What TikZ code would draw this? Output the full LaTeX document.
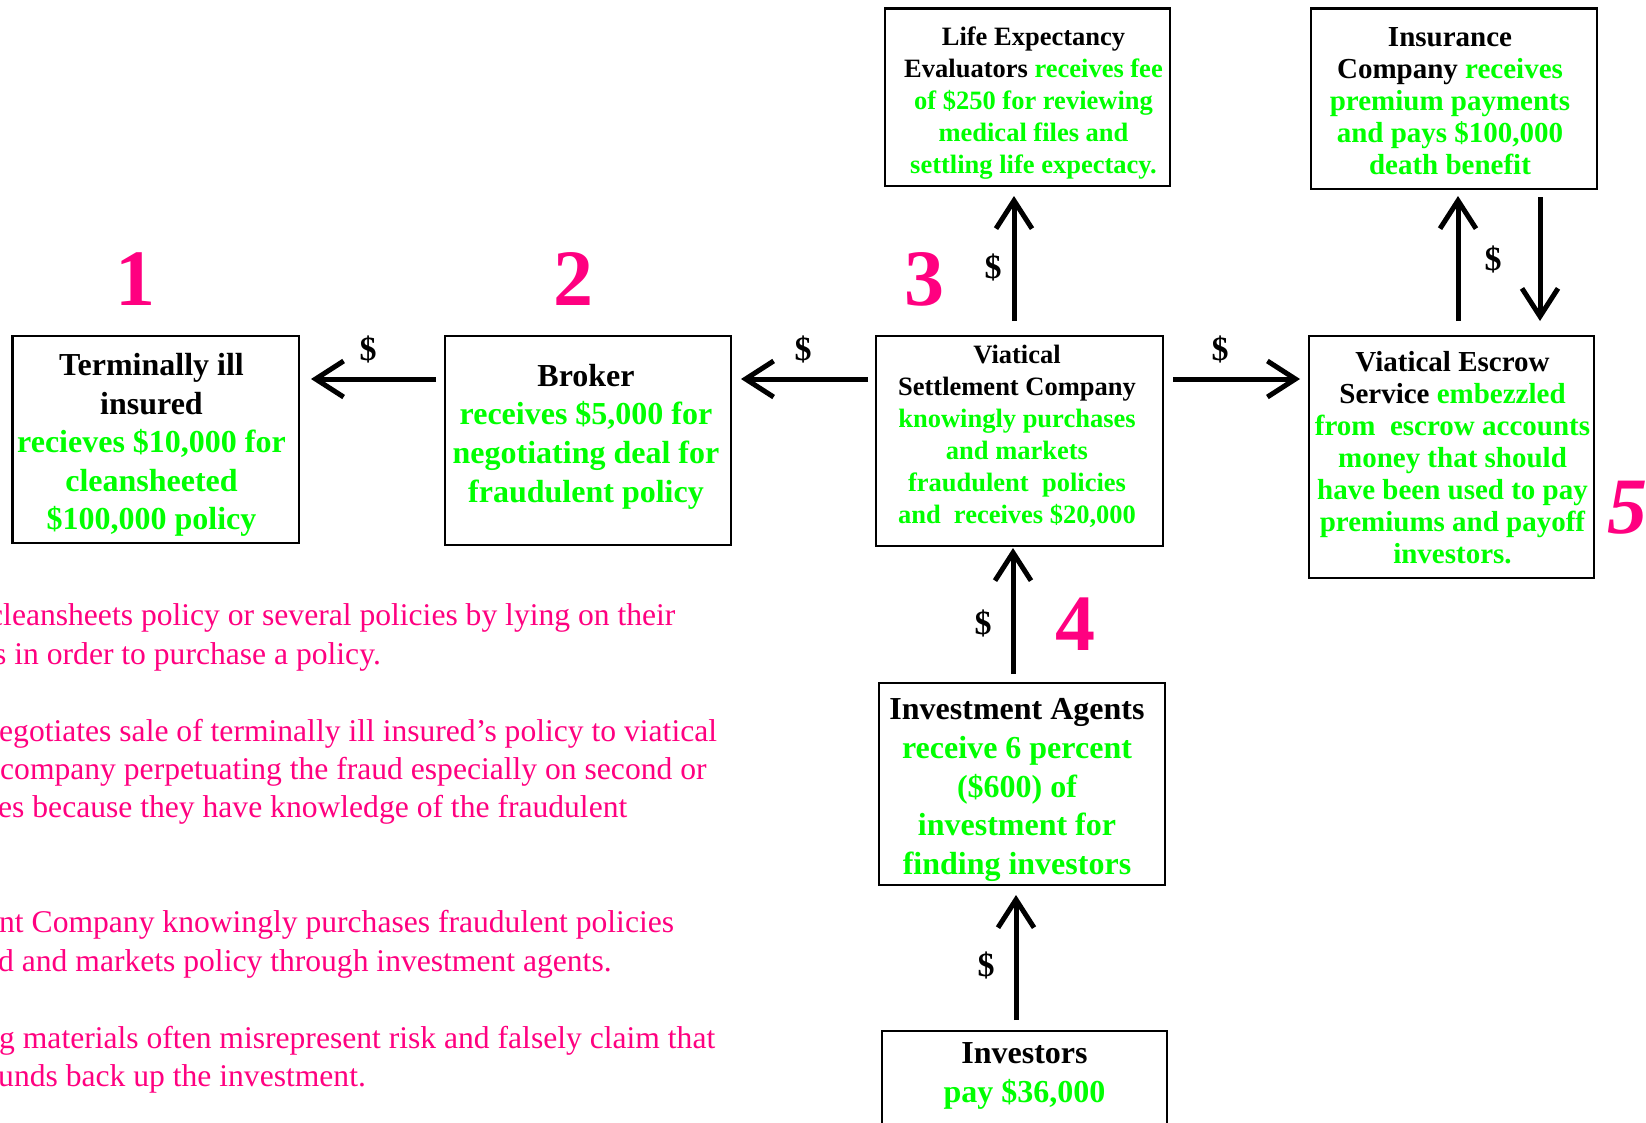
\documentclass[tikz,border=0pt]{standalone}
\usepackage{fontspec}
\setmainfont{Liberation Serif}
\usetikzlibrary{arrows.meta}
\definecolor{lime}{RGB}{0,255,0}
\definecolor{hotpink}{RGB}{255,0,128}
\begin{document}
\begin{tikzpicture}[x=1pt,y=-1pt,
  box/.style={draw=black, line width=2.5pt, rectangle, inner sep=0pt, outer sep=0pt},
  txt/.style={align=center, inner sep=0pt, text=lime},
  big/.style={font=\fontsize{32pt}{38.6pt}\selectfont\bfseries},
  small/.style={font=\fontsize{26.5pt}{32pt}\selectfont\bfseries},
  mid/.style={font=\fontsize{29pt}{32pt}\selectfont\bfseries},
  arr/.style={line width=5pt, -{Straight Barb[length=28pt,width=36pt]}},
  num/.style={text=hotpink, inner sep=0pt, font=\fontsize{80pt}{96pt}\selectfont\bfseries},
  dol/.style={inner sep=0pt, font=\fontsize{34pt}{40pt}\selectfont\bfseries},
  body/.style={text=hotpink, anchor=base west, inner sep=0pt, font=\fontsize{31.6pt}{38.8pt}\selectfont}]
\useasboundingbox (0,0) rectangle (1646,1122);
\fill[white] (0,0) rectangle (1646,1122);
\clip (0,0) rectangle (1646,1122);

% boxes
\node[box, minimum width=286.4pt, minimum height=207pt] (b1) at (155.8,439.5) {};
\node[box, minimum width=286pt, minimum height=209pt] (b2) at (588,440.5) {};
\node[box, minimum width=287pt, minimum height=210pt] (b3) at (1019.5,441) {};
\node[box, minimum width=285pt, minimum height=177.6pt] (le) at (1027.5,97.2) {};
\node[box, minimum width=286pt, minimum height=180.6pt] (ins) at (1454,98.7) {};
\node[box, minimum width=285pt, minimum height=242pt] (esc) at (1451.5,457) {};
\node[box, minimum width=286pt, minimum height=202pt] (ag) at (1022,784) {};
\node[box, minimum width=285pt, minimum height=139pt] (inv) at (1024.5,1100.5) {};

% box texts
\node[txt, big] (t1) at (151.5,445) {\textcolor{black}{Terminally ill}\\\textcolor{black}{insured}\\recieves \$10,000 for\\cleansheeted\\\$100,000 policy};
\node[txt, big] (t2) at (586,436.5) {\textcolor{black}{Broker}\\receives \$5,000 for\\negotiating deal for\\fraudulent policy};
\node[txt, small] (t3) at (1017,436.6) {\textcolor{black}{Viatical}\\\textcolor{black}{Settlement Company}\\knowingly purchases\\and markets\\fraudulent\ \ policies\\and\ \ receives \$20,000};
\node[txt, small] (tle) at (1033.5,102.8) {\textcolor{black}{Life Expectancy}\\\textcolor{black}{Evaluators} receives fee\\of \$250 for reviewing\\medical files and\\settling life expectacy.};
\node[txt, mid] (tins) at (1450,101) {\textcolor{black}{Insurance}\\\textcolor{black}{Company} receives\\premium payments\\and pays \$100,000\\death benefit};
\node[txt, mid] (tesc) at (1452.5,457.6) {\textcolor{black}{Viatical Escrow}\\\textcolor{black}{Service} embezzled\\from\ \ escrow accounts\\money that should\\have been used to pay\\premiums and payoff\\investors.};
\node[txt, big] (tag) at (1017,790) {\textcolor{black}{Investment Agents}\\receive 6 percent\\(\$600) of\\investment for\\finding investors};
\node[txt, big] (tinv) at (1024.5,1076) {\textcolor{black}{Investors}\\pay \$36,000};

% arrows
\draw[arr, shorten <=9pt, shorten >=12pt] ([yshift=61.5pt]b2.west) -- ([yshift=61.5pt]b2.west -| b1.east);
\draw[arr, shorten <=8pt, shorten >=10pt] ([yshift=62pt]b3.west) -- ([yshift=62pt]b3.west -| b2.east);
\draw[arr, shorten <=10pt, shorten >=9pt] ([yshift=62pt]b3.east) -- ([yshift=62pt]b3.east -| esc.west);
\draw[arr, shorten <=15pt, shorten >=10pt] ([xshift=-5.5pt]b3.north) -- ([xshift=-5.5pt]b3.north |- le.south);
\draw[arr, shorten <=15pt, shorten >=7pt] ([xshift=6.5pt]esc.north) -- ([xshift=6.5pt]esc.north |- ins.south);
\draw[arr, shorten <=8pt, shorten >=15pt] ([xshift=86pt]ins.south) -- ([xshift=86pt]ins.south |- esc.north);
\draw[arr, shorten <=9pt, shorten >=2pt] ([xshift=-9pt]ag.north) -- ([xshift=-9pt]ag.north |- b3.south);
\draw[arr, shorten <=11pt, shorten >=10pt] ([xshift=-8.5pt]inv.north) -- ([xshift=-8.5pt]inv.north |- ag.south);

% dollar labels
\node[dol] (d1) at (368,349) {\$};
\node[dol] (d2) at (803,349) {\$};
\node[dol] (d3) at (1220,349) {\$};
\node[dol] (d4) at (993,267) {\$};
\node[dol] (d5) at (1493,259) {\$};
\node[dol] (d6) at (983,623) {\$};
\node[dol] (d7) at (986,965) {\$};

% numbers
\node[num] (n1) at (135,279) {1};
\node[num] (n2) at (573,279) {2};
\node[num] (n3) at (924,279) {3};
\node[num] (n4) at (1075,624) {4};
\node[num, font=\fontsize{80pt}{96pt}\selectfont\bfseries\itshape] (n5) at (1627,508) {5};

% body text (cut at left edge)
\node[body] (p1a) at (-11,625) {cleansheets policy or several policies by lying on their};
\node[body] (p1b) at (-6,664) {s in order to purchase a policy.};
\node[body] (p2a) at (-1,741) {egotiates sale of terminally ill insured’s policy to viatical};
\node[body] (p2b) at (0,779) {company perpetuating the fraud especially on second or};
\node[body] (p2c) at (-2,817) {es because they have knowledge of the fraudulent};
\node[body] (p3a) at (-1,932) {nt Company knowingly purchases fraudulent policies};
\node[body] (p3b) at (-2,971) {d and markets policy through investment agents.};
\node[body] (p4a) at (-1,1048) {g materials often misrepresent risk and falsely claim that};
\node[body] (p4b) at (-2,1086) {unds back up the investment.};
\end{tikzpicture}
\end{document}
